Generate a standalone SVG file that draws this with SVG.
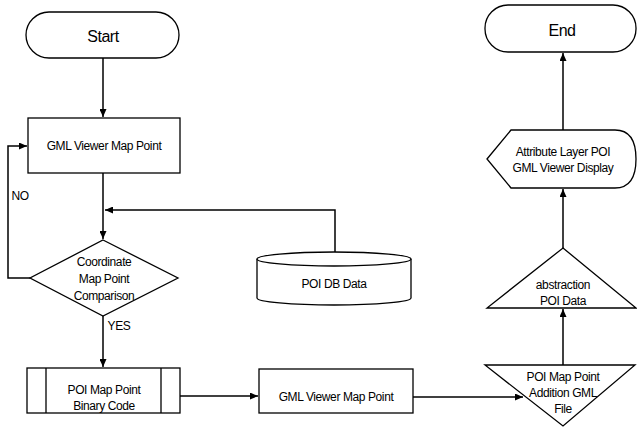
<svg xmlns="http://www.w3.org/2000/svg" width="637" height="427" viewBox="0 0 637 427">
<style>
.s{fill:#fff;stroke:#000;stroke-width:1.3}
.c{fill:none;stroke:#000;stroke-width:1.5}
text{font-family:"Liberation Sans",Arial,sans-serif;font-size:12px;fill:#000;text-anchor:middle;dominant-baseline:central;letter-spacing:-0.4px}
.big{font-size:16px;letter-spacing:-0.5px}
</style>
<defs>
<marker id="a" markerUnits="userSpaceOnUse" markerWidth="8" markerHeight="7" refX="8" refY="3.5" orient="auto">
<path d="M0,0 L8,3.5 L0,7 Z" fill="#000"/>
</marker>
</defs>
<rect width="637" height="427" fill="#fff"/>
<g id="connectors">
<path class="c" d="M103,58 V117" marker-end="url(#a)"/>
<path class="c" d="M103,173 V239" marker-end="url(#a)"/>
<path class="c" d="M335,252 V210 H105" marker-end="url(#a)"/>
<path class="c" d="M30,278 H8 V146 H27" marker-end="url(#a)"/>
<path class="c" d="M103,316 V367" marker-end="url(#a)"/>
<path class="c" d="M180,396 H258" marker-end="url(#a)"/>
<path class="c" d="M413,397 H523" marker-end="url(#a)"/>
<path class="c" d="M563,365 V309" marker-end="url(#a)"/>
<path class="c" d="M563,248 V189" marker-end="url(#a)"/>
<path class="c" d="M563,130 V53" marker-end="url(#a)"/>
<text x="20" y="196" text-anchor="middle">NO</text>
<text x="119" y="326">YES</text>
</g>
<g id="start">
<rect class="s" x="26" y="12" width="153" height="46" rx="23"/>
<text class="big" x="103" y="36">Start</text>
</g>
<g id="gml1">
<rect class="s" x="28" y="118" width="152" height="55"/>
<text x="104" y="146">GML Viewer Map Point</text>
</g>
<g id="decision">
<polygon class="s" points="103,240 178,278 103,316 30,278"/>
<text x="104" y="262">Coordinate</text>
<text x="104" y="279">Map Point</text>
<text x="104" y="296">Comparison</text>
</g>
<g id="db">
<path class="s" d="M257,259 V298 A77,7 0 0 0 411,298 V259"/>
<ellipse class="s" cx="334" cy="259" rx="77" ry="7"/>
<text x="334" y="284">POI DB Data</text>
</g>
<g id="binary">
<rect class="s" x="27" y="368" width="153" height="45"/>
<path class="c" d="M46,368 V413 M161,368 V413" style="stroke-width:1.3"/>
<text x="104" y="390">POI Map Point</text>
<text x="104" y="406">Binary Code</text>
</g>
<g id="gml2">
<rect class="s" x="259" y="369" width="154" height="44"/>
<text x="336" y="397">GML Viewer Map Point</text>
</g>
<g id="addition">
<polygon class="s" points="485,365 635,365 563,426"/>
<text x="563" y="377">POI Map Point</text>
<text x="563" y="393">Addition GML</text>
<text x="563" y="409">File</text>
</g>
<g id="abstraction">
<polygon class="s" points="563,248 636,308 487,308"/>
<text x="563" y="285">abstraction</text>
<text x="563" y="301">POI Data</text>
</g>
<g id="display">
<path class="s" d="M487,159 L511,130 L615,130 C632,130 636,145 636,159 C636,173 632,188 615,188 L511,188 Z"/>
<text x="563" y="152">Attribute Layer POI</text>
<text x="563" y="168">GML Viewer Display</text>
</g>
<g id="end">
<rect class="s" x="485" y="5" width="151" height="47" rx="23"/>
<text class="big" x="562" y="30">End</text>
</g>
</svg>
